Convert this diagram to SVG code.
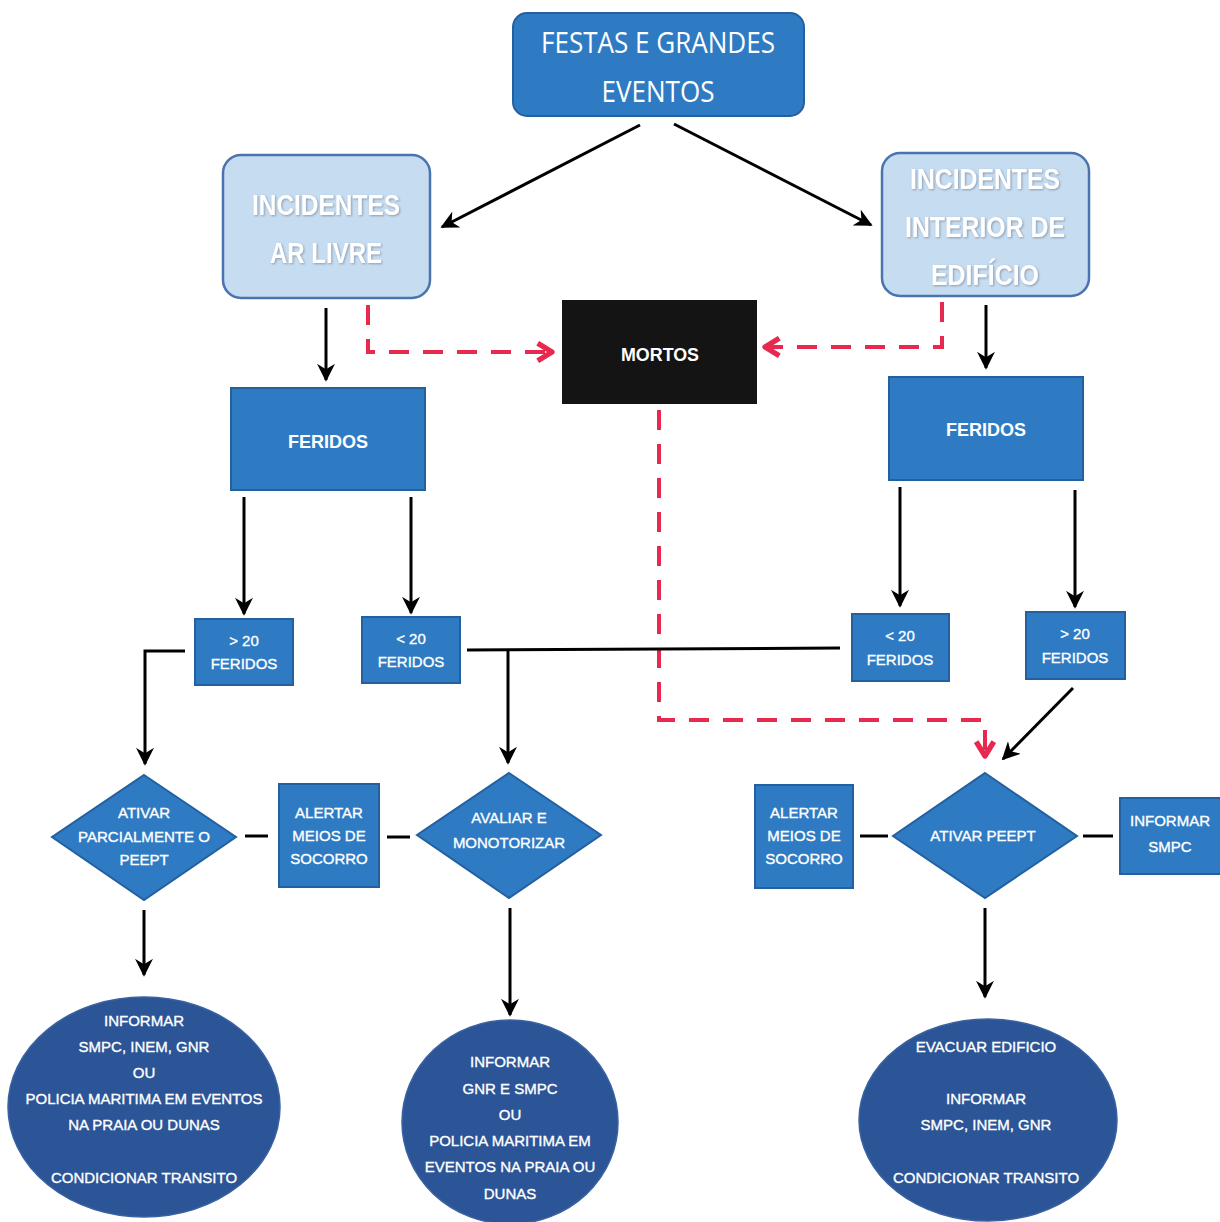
<svg xmlns="http://www.w3.org/2000/svg" width="1220" height="1222" viewBox="0 0 1220 1222">
<style>
.box{fill:#2e7bc4;stroke:#23609f;stroke-width:2}
.light{fill:#c6dcf1;stroke:#4a74ad;stroke-width:2.5}
.ell{fill:#2b5597;stroke:#3a62a0;stroke-width:1.5}
.t{font-family:"Liberation Sans",Arial,sans-serif;fill:#fff;text-anchor:middle}
.s{font-size:15px;stroke:#fff;stroke-width:0.35}
.m{font-size:19px;font-weight:bold}
.big{font-family:"Open Sans","Liberation Sans",sans-serif;font-size:30px;fill:#fff;text-anchor:middle}
.inc{font-family:"Liberation Sans",Arial,sans-serif;font-size:29px;font-weight:bold;fill:#fff;text-anchor:middle;filter:url(#sh)}
.ln{stroke:#000;stroke-width:3;fill:none}
.arr{stroke:#000;stroke-width:3;fill:none;marker-end:url(#ah)}
.red{stroke:#e8294f;stroke-width:4;fill:none;stroke-dasharray:20 14}
</style>
<defs>
<marker id="ah" viewBox="0 0 10 10" refX="9" refY="5" markerWidth="6" markerHeight="6" orient="auto" markerUnits="strokeWidth"><path d="M0,0 L10,5 L0,10 L3,5 Z" fill="#000"/></marker>
<marker id="rh" viewBox="0 0 10 10" refX="8" refY="5" markerWidth="5.5" markerHeight="5.5" orient="auto" markerUnits="strokeWidth"><path d="M1.5,1 L8,5 L1.5,9" fill="none" stroke="#e8294f" stroke-width="2.4" stroke-linejoin="round"/></marker>
<filter id="sh" x="-10%" y="-20%" width="120%" height="140%"><feDropShadow dx="1" dy="1" stdDeviation="0.8" flood-color="#8a9bb0"/></filter>
</defs>
<rect width="1220" height="1222" fill="#fff"/>

<g id="connectors">
<line class="arr" x1="640" y1="125" x2="442" y2="227"/>
<line class="arr" x1="674" y1="124" x2="871" y2="225"/>
<line class="arr" x1="326" y1="308" x2="326" y2="380"/>
<line class="arr" x1="986" y1="305" x2="986" y2="368"/>
<path class="red" d="M368,305 V352 H552" marker-end="url(#rh)"/>
<path class="red" d="M942,302 V347 H765" marker-end="url(#rh)"/>
<path class="red" d="M659,410 V720 H985 V756" marker-end="url(#rh)"/>
<line class="arr" x1="244" y1="497" x2="244" y2="614"/>
<line class="arr" x1="411" y1="497" x2="411" y2="613"/>
<line class="arr" x1="900" y1="487" x2="900" y2="606"/>
<line class="arr" x1="1075" y1="490" x2="1075" y2="607"/>
<path class="arr" d="M185,651 H145 V764"/>
<line class="ln" x1="467" y1="650" x2="840" y2="648"/>
<line class="arr" x1="508" y1="650" x2="508" y2="763"/>
<line class="arr" x1="1073" y1="688" x2="1003" y2="759"/>
<line class="ln" x1="245" y1="836" x2="268" y2="836" stroke-width="4"/>
<line class="ln" x1="387" y1="837" x2="410" y2="837" stroke-width="4"/>
<line class="ln" x1="860" y1="836" x2="888" y2="836" stroke-width="4"/>
<line class="ln" x1="1083" y1="836" x2="1113" y2="836" stroke-width="4"/>
<line class="arr" x1="144" y1="910" x2="144" y2="975"/>
<line class="arr" x1="510" y1="908" x2="510" y2="1015"/>
<line class="arr" x1="985" y1="908" x2="985" y2="997"/>
</g>

<g id="festas">
<rect class="box" x="513" y="13" width="291" height="103" rx="14"/>
<text class="big" x="658" y="53" textLength="234" lengthAdjust="spacingAndGlyphs">FESTAS E GRANDES</text>
<text class="big" x="658" y="102" textLength="113" lengthAdjust="spacingAndGlyphs">EVENTOS</text>
</g>

<g id="incidentes-ar-livre">
<rect class="light" x="223" y="155" width="207" height="143" rx="18"/>
<text class="inc" x="326" y="215" textLength="148" lengthAdjust="spacingAndGlyphs">INCIDENTES</text>
<text class="inc" x="326" y="263" textLength="112" lengthAdjust="spacingAndGlyphs">AR LIVRE</text>
</g>

<g id="incidentes-interior">
<rect class="light" x="882" y="153" width="207" height="143" rx="18"/>
<text class="inc" x="985" y="189" textLength="150" lengthAdjust="spacingAndGlyphs">INCIDENTES</text>
<text class="inc" x="985" y="237" textLength="160" lengthAdjust="spacingAndGlyphs">INTERIOR DE</text>
<text class="inc" x="985" y="285" textLength="108" lengthAdjust="spacingAndGlyphs">EDIFÍCIO</text>
</g>

<g id="mortos">
<rect x="562" y="300" width="195" height="104" fill="#141414"/>
<text class="t m" x="660" y="361" font-size="18" textLength="78" lengthAdjust="spacingAndGlyphs">MORTOS</text>
</g>

<g id="feridos-esq">
<rect class="box" x="231" y="388" width="194" height="102"/>
<text class="t m" x="328" y="448" textLength="80" lengthAdjust="spacingAndGlyphs">FERIDOS</text>
</g>

<g id="feridos-dir">
<rect class="box" x="889" y="377" width="194" height="103"/>
<text class="t m" x="986" y="436" textLength="80" lengthAdjust="spacingAndGlyphs">FERIDOS</text>
</g>

<g id="mais20-esq">
<rect class="box" x="195" y="619" width="98" height="66"/>
<text class="t s" x="244" y="646">&gt; 20</text>
<text class="t s" x="244" y="669">FERIDOS</text>
</g>
<g id="menos20-esq">
<rect class="box" x="362" y="617" width="98" height="66"/>
<text class="t s" x="411" y="644">&lt; 20</text>
<text class="t s" x="411" y="667">FERIDOS</text>
</g>
<g id="menos20-dir">
<rect class="box" x="852" y="614" width="97" height="67"/>
<text class="t s" x="900" y="641">&lt; 20</text>
<text class="t s" x="900" y="665">FERIDOS</text>
</g>
<g id="mais20-dir">
<rect class="box" x="1026" y="612" width="99" height="67"/>
<text class="t s" x="1075" y="639">&gt; 20</text>
<text class="t s" x="1075" y="663">FERIDOS</text>
</g>

<g id="ativar-parcial">
<polygon class="box" points="144,775 236,837 144,900 52,837"/>
<text class="t s" x="144" y="818">ATIVAR</text>
<text class="t s" x="144" y="842" textLength="132" lengthAdjust="spacingAndGlyphs">PARCIALMENTE O</text>
<text class="t s" x="144" y="865">PEEPT</text>
</g>
<g id="alertar-esq">
<rect class="box" x="279" y="784" width="100" height="103"/>
<text class="t s" x="329" y="818">ALERTAR</text>
<text class="t s" x="329" y="841">MEIOS DE</text>
<text class="t s" x="329" y="864">SOCORRO</text>
</g>
<g id="avaliar">
<polygon class="box" points="509,773 601,835 509,898 417,835"/>
<text class="t s" x="509" y="823">AVALIAR E</text>
<text class="t s" x="509" y="848">MONOTORIZAR</text>
</g>

<g id="alertar-dir">
<rect class="box" x="755" y="785" width="98" height="103"/>
<text class="t s" x="804" y="818">ALERTAR</text>
<text class="t s" x="804" y="841">MEIOS DE</text>
<text class="t s" x="804" y="864">SOCORRO</text>
</g>
<g id="ativar-peept">
<polygon class="box" points="985,773 1077,836 985,898 893,836"/>
<text class="t s" x="983" y="841">ATIVAR PEEPT</text>
</g>
<g id="informar-smpc">
<rect class="box" x="1120" y="798" width="102" height="76"/>
<text class="t s" x="1170" y="826">INFORMAR</text>
<text class="t s" x="1170" y="852">SMPC</text>
</g>

<g id="informar-esq">
<ellipse class="ell" cx="144" cy="1107" rx="136" ry="110"/>
<text class="t s" x="144" y="1026">INFORMAR</text>
<text class="t s" x="144" y="1052">SMPC, INEM, GNR</text>
<text class="t s" x="144" y="1078">OU</text>
<text class="t s" x="144" y="1104" textLength="237" lengthAdjust="spacingAndGlyphs">POLICIA MARITIMA EM EVENTOS</text>
<text class="t s" x="144" y="1130">NA PRAIA OU DUNAS</text>
<text class="t s" x="144" y="1183">CONDICIONAR TRANSITO</text>
</g>
<g id="informar-centro">
<ellipse class="ell" cx="510" cy="1122" rx="108" ry="102"/>
<text class="t s" x="510" y="1067">INFORMAR</text>
<text class="t s" x="510" y="1094">GNR E SMPC</text>
<text class="t s" x="510" y="1120">OU</text>
<text class="t s" x="510" y="1146">POLICIA MARITIMA EM</text>
<text class="t s" x="510" y="1172">EVENTOS NA PRAIA OU</text>
<text class="t s" x="510" y="1199">DUNAS</text>
</g>
<g id="evacuar">
<ellipse class="ell" cx="988" cy="1120" rx="129" ry="101"/>
<text class="t s" x="986" y="1052">EVACUAR EDIFICIO</text>
<text class="t s" x="986" y="1104">INFORMAR</text>
<text class="t s" x="986" y="1130">SMPC, INEM, GNR</text>
<text class="t s" x="986" y="1183">CONDICIONAR TRANSITO</text>
</g>
</svg>
